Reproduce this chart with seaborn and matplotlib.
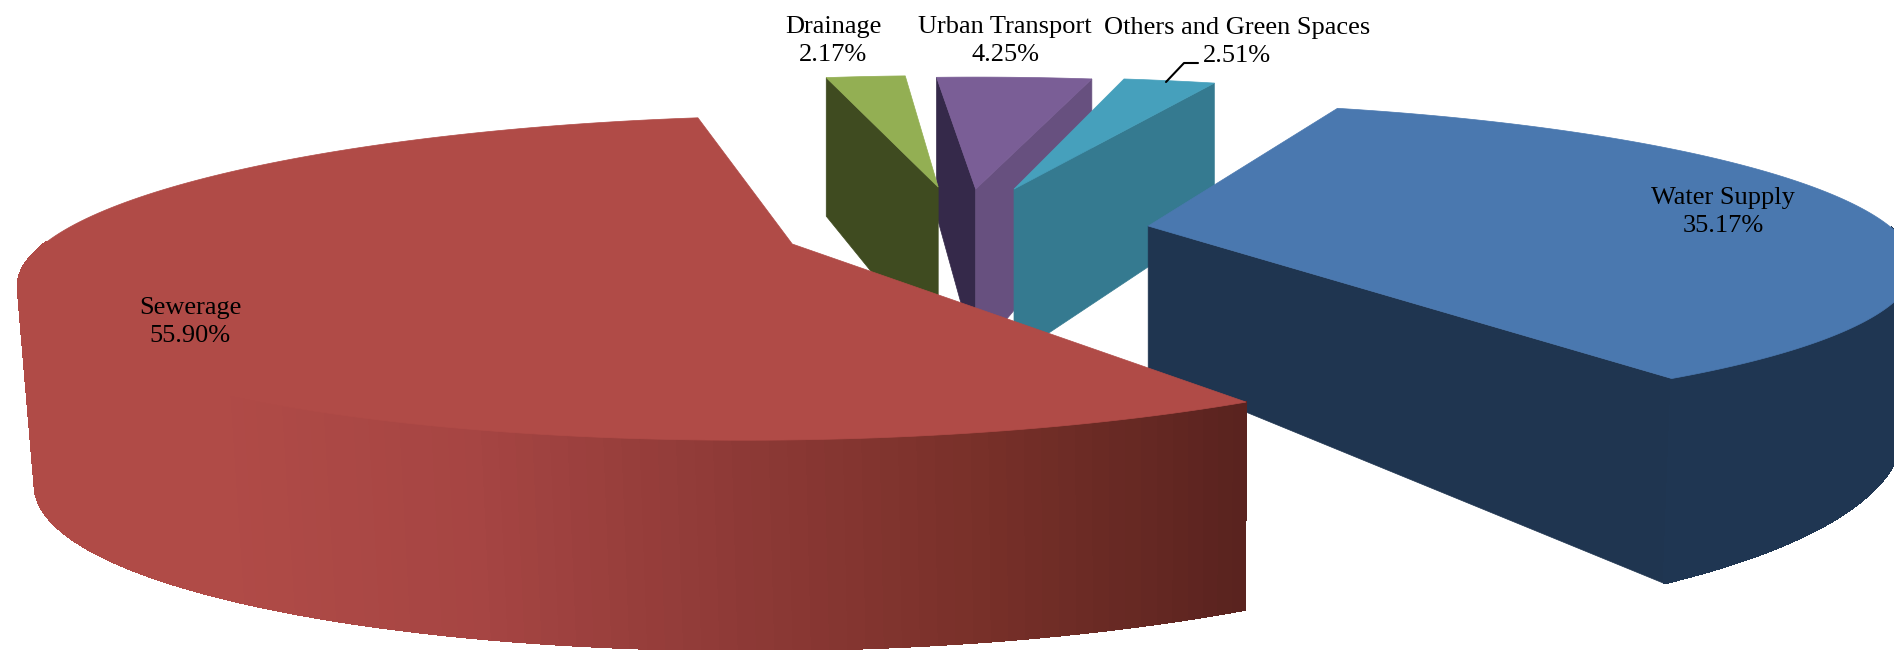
import numpy as np
import matplotlib
matplotlib.use('Agg')
import matplotlib.pyplot as plt
import seaborn as sns

labels = ['Water Supply', 'Sewerage', 'Drainage', 'Urban Transport', 'Others and Green Spaces']
values = [35.17, 55.90, 2.17, 4.25, 2.51]

# look of each slice: top face, cut at first edge, cut at last edge
top_colors = ['#4A78AF', '#B04B47', '#93AF53', '#7A5E96', '#46A0BC']
first_cut_colors = ['#1F3550', '#B04B47', '#3F4B20', '#35294A', '#357A90']
last_cut_colors = ['#1F3550', '#B04B47', '#3F4B20', '#67507F', '#357A90']

# explode offsets on the pie plane, radius scale and extrusion heights
explode_u = [0.236, -0.243, -0.053, 0.001, 0.056]
explode_v = [-0.118, 0.0, -0.395, -0.38, -0.38]
radius = [1.01, 0.995, 1, 1, 1]
height_0 = [146, 195, 167, 167, 167]
height_1 = [70, 15, 29, 29, 29]
shrink = [0.985, 0.985, 1, 1, 1]

start_angle = 20.5
X0, Y0, RX, RY, K = 975, 244, 752, 156, 0.21
VANISH_X = 1150

label_pos = [(1723, 212), (190, 322), (833, 41), (1005, 41), (1237, 42)]


def project(u, v):
    p = 1 / (1 - K * v)
    return X0 + RX * u * p, Y0 + RY * v * p


sns.set_theme(style='white')
plt.rcParams['font.family'] = ['Liberation Serif', 'DejaVu Serif']

fig = plt.figure(figsize=(18.94, 6.5), dpi=100)
ax = fig.add_axes([0, 0, 1, 1])
ax.set_xlim(0, 1894)
ax.set_ylim(650, 0)
ax.axis('off')

red_wall = sns.blend_palette(['#B04B47', '#A64543', '#8F3A37', '#783029', '#5A231F'], 200)

# slices as angles, clockwise from the back of the pie
spans = np.array(values) / sum(values) * 360
starts = start_angle + np.concatenate([[0], np.cumsum(spans)[:-1]])

# painter's order, back to front
order = {3: 1, 2: 2, 4: 3, 0: 4, 1: 5}


def draw_slice(i):
    z = order[i]
    th = np.radians(np.linspace(starts[i], starts[i] + spans[i], 180))
    u0, v0 = explode_u[i], explode_v[i]
    xs, ys = project(u0 + radius[i] * np.sin(th), v0 - radius[i] * np.cos(th))
    hs = height_0[i] - height_1[i] * np.cos(th)
    apex_x, apex_y = project(u0, v0)
    bx = VANISH_X + (xs - VANISH_X) * shrink[i]
    by = ys + hs
    abx = VANISH_X + (apex_x - VANISH_X) * shrink[i]
    aby = apex_y + height_0[i]

    # cut faces, only when they look towards the viewer
    if xs[0] < apex_x:
        ax.fill([apex_x, xs[0], bx[0], abx], [apex_y, ys[0], by[0], aby],
                color=first_cut_colors[i], lw=0.5, zorder=z)
    if xs[-1] > apex_x:
        ax.fill([apex_x, xs[-1], bx[-1], abx], [apex_y, ys[-1], by[-1], aby],
                color=last_cut_colors[i], lw=0.5, zorder=z)

    # outer wall in strips, the red one carries a shading
    if values[i] > 10:
        for j in range(len(th) - 1):
            if -np.cos(th[j]) < 0:
                continue
            col = '#1F3652'
            if i == 1:
                t = np.clip((xs[j] - 215) / (1244 - 215), 0, 1)
                col = red_wall[int(t * 199)]
            ax.fill([xs[j], xs[j + 1], bx[j + 1], bx[j]], [ys[j], ys[j + 1], by[j + 1], by[j]],
                    color=col, lw=1, antialiased=False, zorder=z)

    ax.fill(np.r_[apex_x, xs], np.r_[apex_y, ys], color=top_colors[i], lw=0.5, zorder=z + 0.5)


for i in range(len(values)):
    draw_slice(i)

for name, val, (x, y) in zip(labels, values, label_pos):
    ax.text(x, y, '{}\n{:.2f}%'.format(name, val), ha='center', va='center',
            fontsize=19, color='black', linespacing=1.38, zorder=10)

ax.plot([1166, 1184, 1198], [82, 63, 63], color='black', lw=1.5, zorder=10)

fig.savefig('out.png', dpi=100)
plt.close(fig)
